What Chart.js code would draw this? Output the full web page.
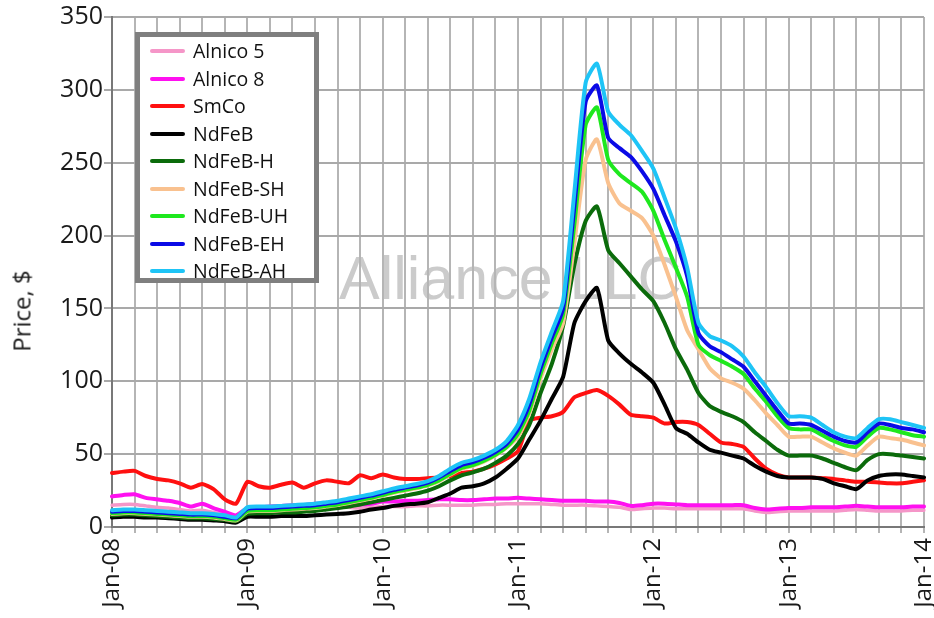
<!DOCTYPE html>
<html>
<head>
<meta charset="utf-8">
<script src="https://cdn.jsdelivr.net/npm/chart.js@4.4.1/dist/chart.umd.min.js"></script>
<style>
  html, body { margin: 0; padding: 0; background: #ffffff; }
  #wrap { position: relative; width: 934px; height: 618px; overflow: hidden; background: #ffffff; }
  #watermark { position: absolute; left: 339px; top: 248px; font-family: "Liberation Sans", Arial, sans-serif;
    font-size: 61px; line-height: 61px; color: #cbcbcb; white-space: nowrap; z-index: 0; }
  #chart { position: absolute; left: 0; top: 0; z-index: 1; }
  #ytitle { position: absolute; left: 21px; top: 311px; transform: translate(-50%, -50%) rotate(-90deg);
    font-family: "Open Sans", sans-serif; font-size: 24px; color: #1a1a1a; white-space: nowrap; z-index: 2; }
  #legend { position: absolute; left: 135px; top: 32px; width: 184px; height: 251px; box-sizing: border-box;
    border: 5px solid #7f7f7f; background: #ffffff; z-index: 3; }
  .item { position: absolute; left: 10px; height: 26px; display: flex; align-items: center; }
  .swatch { width: 35px; height: 4px; border-radius: 2px; margin-right: 8px; }
  .lbl { font-family: "Open Sans", sans-serif; font-size: 19.5px; color: #111; white-space: nowrap; line-height: 26px; }
</style>
</head>
<body>
<div id="wrap">
  <div id="watermark">Alliance LLC</div>
  <canvas id="chart" width="934" height="618"></canvas>
  <div id="ytitle">Price, $</div>
  <div id="legend"></div>
</div>
<script>
// ---- Data (monthly, Jan-08 .. Jan-14) ----
const yearLabels = ['Jan-08','Jan-09','Jan-10','Jan-11','Jan-12','Jan-13','Jan-14'];
const monthNames = ['Jan','Feb','Mar','Apr','May','Jun','Jul','Aug','Sep','Oct','Nov','Dec'];
const yTicks = [0, 50, 100, 150, 200, 250, 300, 350];

const seriesNames = ['Alnico 5','Alnico 8','SmCo','NdFeB','NdFeB-H','NdFeB-SH','NdFeB-UH','NdFeB-EH','NdFeB-AH'];
const seriesColors = ['#f596c8','#ff10f0','#ff1010','#000000','#0b6b0b','#f9c18f','#1ee81e','#0a0ae6','#1ec4f6'];

const alnico5 = [15,15.5,15.5,14.5,13.5,13,12,11,11.5,10,8.5,6.5,
  11,11.5,12,12,12.5,12.5,13,13,13.5,13.5,13,13.5,
  14,14,14,14.5,14.5,15,15,15,15,15.5,15.5,16,
  16,16,16,15.5,15,15,15,14.5,14,13.5,12,12.5,
  13,13,12.5,12.5,12.5,12.5,12.5,12.5,12.5,11,10,10.5,
  11,11,11,11,11,11.5,12,11.5,11,11,11,11.5,
  11.5];
const alnico8 = [21,22,22.5,20,19,18,16.5,14,16,13,10.5,8,
  13,13.5,14,14.5,15,15,16,16,16.5,16,15.5,16,
  17.5,17.5,18,18,18.5,19,19,18.5,18.5,19,19.5,19.5,
  20,19.5,19,18.5,18,18,18,17.5,17.5,16.5,14.5,15,
  16,16,15.5,15,15,15,15,15,15,13,12,12.5,
  13,13,13.5,13.5,13.5,14,14.5,14,13.5,13.5,13.5,14,
  14];
const smco = [37,38,38.5,35,33,32,30,27,29.5,26,19,16,
  31,28,27,29,30.5,27,30,32,31,30,35.5,33.5,
  36,34,33,33,33.5,34,35,37,38,40,43,47,
  52,73,75,76,79,89,92,94,90,84,77,76,
  75,71,72,72,70,64,58,57,55,47,40,36,
  34,34,34,33.5,33,32,31,31,30.5,30,30,31,
  32];
const ndfeb = [6.5,7,7,6.5,6.5,6,5.5,5,5,4.5,4,3,
  7,7,7,7.5,7.5,7.5,8,8.5,9,9.5,10.5,12,
  13,14.5,15.5,16,17,20,23,27,28,30,34,40,
  47,60,73,88,103,140,155,164,128,119,112,106,
  99,84,68,64,58,53,51,49,47,42,38,35,
  34,34,34,33,30,28,26,32,35,36,36,35,
  34];
const ndfebH = [8,8.5,8.5,8,7.5,7,6.5,6,6,5.5,5,4,
  9,9.5,9.5,10,10,10.5,11,12,13,14,15.5,17,
  18.5,20,21.5,23,25,28,32,35.5,37.5,40,44,49,
  57,70,92,112,138,180,210,220,190,181,172,163,
  155,140,122,108,92,83,79,76,72,65,59,53,
  49,49,49,47,44,41,39,46,50,50,49,48,
  47];
const ndfebSH = [9,9.5,9.5,9,8.5,8,7.5,7,7,6.5,5.5,4.5,
  10.5,11,11,11.5,12,12.5,13,14,15,16.5,18,19.5,
  21.5,23.5,25,26.5,28.5,31.5,36,40,42,45,49,54.5,
  62,78,102,122,140,195,252,266,236,222,217,212,
  200,180,158,135,122,109,102,99,95,87,78,70,
  62,62,62,58,54,51,49,56,62,61,60,58,
  56];
const ndfebUH = [9.5,10,10,9.5,9,8.5,8,7.5,7.5,7,6,5,
  11,11.5,11.5,12,12.5,13,13.5,14.5,15.5,17,18.5,20,
  22,24,25.5,27,29,32,36.5,40.5,42.5,45.5,49.5,55,
  64,80,105,126,146,208,276,288,252,242,236,230,
  217,197,178,158,125,118,114,110,105,95,86,76,
  68,67,67,63,59,56,55,62,68,67,65,63,
  62];
const ndfebEH = [10.5,11,11,10.5,10,9.5,9,8.5,8.5,8,7,6,
  12.5,13,13,13.5,14,14.5,15,16,17,18.5,20,21.5,
  23.5,25.5,27,28.5,30.5,34,38.5,42.5,44.5,47.5,51.5,57,
  67,84,109,130,150,220,292,303,267,260,254,244,
  232,214,196,172,133,124,120,115,110,100,90,80,
  71,71,70,66,62,59,58,65,71,70,68,67,
  65];
const ndfebAH = [11.5,12,12,11.5,11,10.5,10,9.5,9.5,9,8,6.5,
  13.5,14,14,14.5,15,15.5,16,17,18,19.5,21,22.5,
  24.5,26.5,28,29.5,31.5,35,40,44,46,49,53,59,
  70,88,113,134,155,230,305,318,285,276,269,258,
  246,226,205,178,140,131,128,124,117,106,96,85,
  76,76,75,70,65,62,61,68,74,74,72,70,
  68];

const seriesValues = [alnico5, alnico8, smco, ndfeb, ndfebH, ndfebSH, ndfebUH, ndfebEH, ndfebAH];

// monthly categories built from the year tick labels
const categories = [];
yearLabels.forEach((yl, i) => {
  const yy = yl.split('-')[1];
  if (i < yearLabels.length - 1) monthNames.forEach(m => categories.push(m + '-' + yy));
  else categories.push(yl);
});

// ---- Legend (HTML, real text) ----
const legendEl = document.getElementById('legend');
seriesNames.forEach((name, i) => {
  const row = document.createElement('div');
  row.className = 'item';
  row.style.top = (1 + i * 27.5) + 'px';
  const sw = document.createElement('div');
  sw.className = 'swatch';
  sw.style.background = seriesColors[i];
  const tx = document.createElement('span');
  tx.className = 'lbl';
  tx.textContent = name;
  row.appendChild(sw); row.appendChild(tx);
  legendEl.appendChild(row);
});

// ---- Chart ----
Chart.defaults.font.family = "'Open Sans', sans-serif";
Chart.defaults.color = '#1a1a1a';

const datasets = seriesNames.map((name, i) => ({
  label: name,
  data: seriesValues[i],
  borderColor: seriesColors[i],
  backgroundColor: seriesColors[i],
  borderWidth: i === 0 ? 3.5 : 4,
  pointRadius: 0,
  tension: 0.2,
  fill: false,
  borderJoinStyle: 'round',
  borderCapStyle: 'round',
  order: seriesNames.length - 1 - i
}));

new Chart(document.getElementById('chart'), {
  type: 'line',
  data: { labels: categories, datasets },
  options: {
    responsive: false,
    animation: false,
    devicePixelRatio: 1,
    layout: { padding: { top: 17, right: 10, left: 0, bottom: 0 } },
    plugins: { legend: { display: false }, tooltip: { enabled: false } },
    scales: {
      x: {
        type: 'category',
        offset: false,
        grid: {
          color: (ctx) => (ctx.index % 2 === 0 ? '#b5b5b5' : 'rgba(0,0,0,0)'),
          lineWidth: 2,
          tickLength: 6,
          drawTicks: true
        },
        border: { display: true, color: '#787878', width: 2 },
        ticks: {
          autoSkip: false,
          maxRotation: 90,
          minRotation: 90,
          padding: 5,
          font: { size: 24 },
          color: '#1a1a1a',
          callback: function (value, index) {
            const lab = this.getLabelForValue(value);
            return yearLabels.includes(lab) ? lab : '';
          }
        },
        afterFit: (s) => { s.height = 91; s.paddingLeft = 0; s.paddingRight = 0; }
      },
      y: {
        min: yTicks[0],
        max: yTicks[yTicks.length - 1],
        afterBuildTicks: (s) => { s.ticks = yTicks.map(v => ({ value: v })); },
        grid: { color: '#a9a9a9', lineWidth: 2, tickLength: 8 },
        border: { display: true, color: '#787878', width: 2 },
        ticks: { padding: 1, font: { size: 25 }, color: '#1a1a1a' },
        afterFit: (s) => { s.width = 112; s.paddingTop = 0; s.paddingBottom = 0; }
      }
    }
  }
});
</script>
</body>
</html>
